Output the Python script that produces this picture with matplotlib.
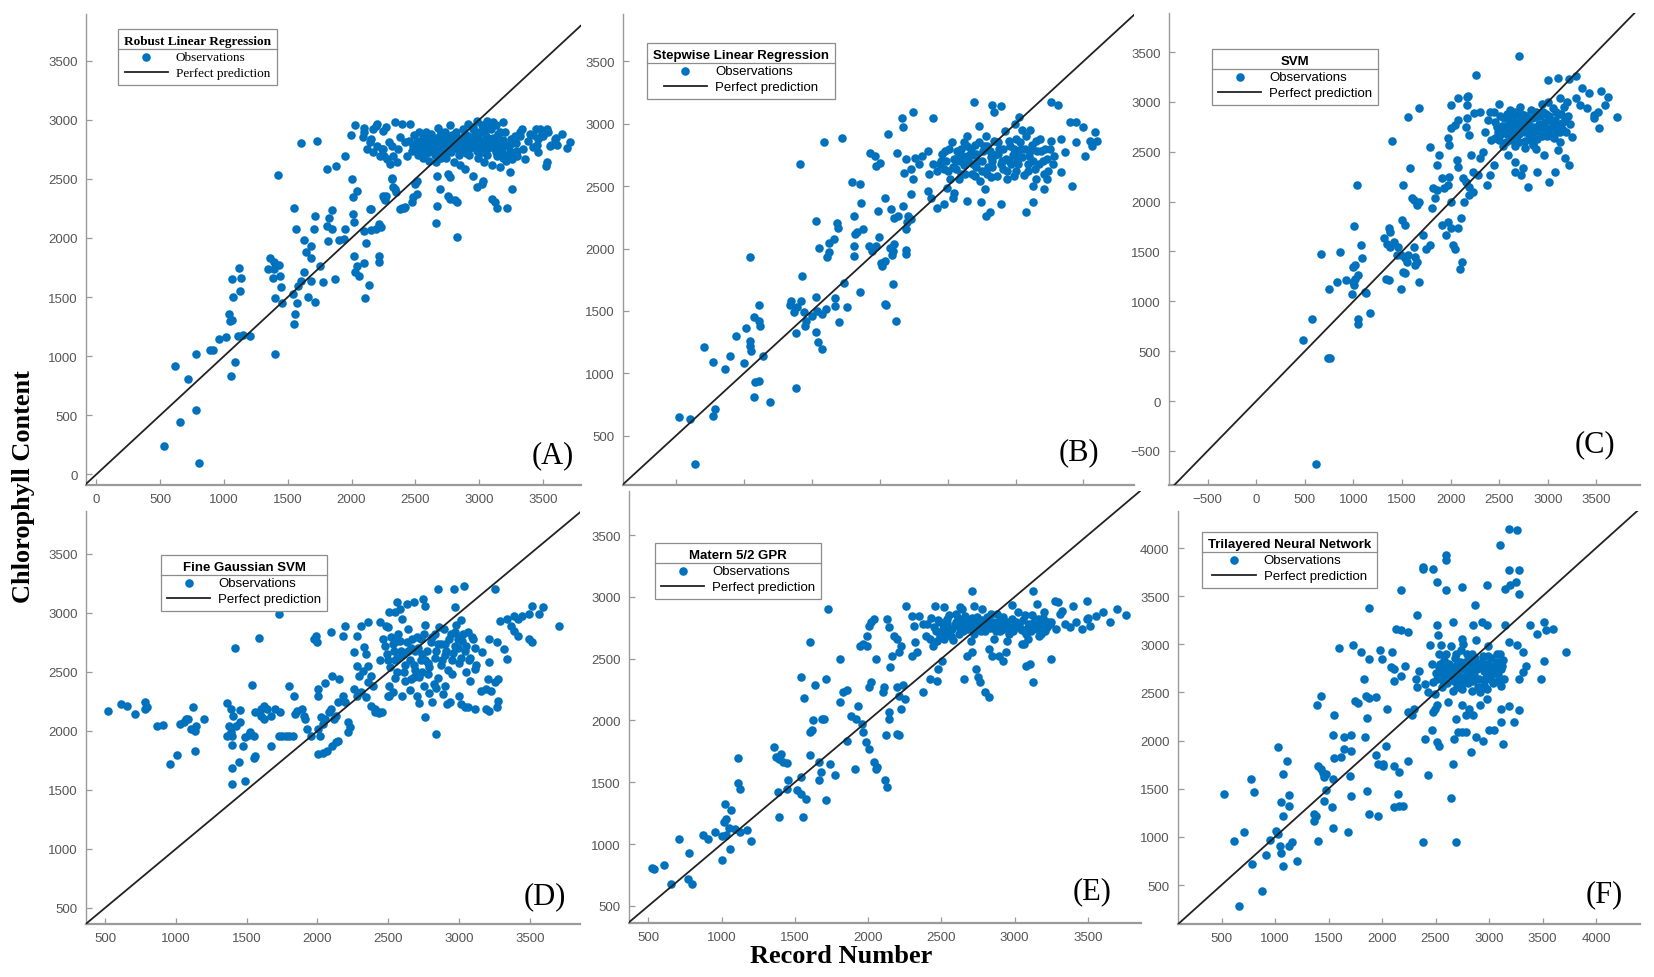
import matplotlib
matplotlib.use("Agg")
import matplotlib.pyplot as plt
from matplotlib.lines import Line2D

W, H = 1654, 978

# ---- data (true value, predicted value) ----
rlr_pts = [
    (532, 243), (806, 93), (616, 914), (658, 440), (720, 806), (778, 544), (784, 1018), (890, 1052),
    (916, 1052), (963, 1145), (1014, 1165), (1053, 829), (1086, 953), (1036, 1356), (1064, 1308),
    (1114, 1173), (1204, 1173), (1150, 1175), (1050, 1300), (1064, 1652), (1070, 1497), (1128, 1554),
    (1120, 1742), (1137, 1658), (1400, 1018), (1360, 1830), (1395, 1800), (1430, 1775), (1345, 1740),
    (1395, 1740), (1440, 1680), (1384, 1665), (1450, 1588), (1400, 1492), (1456, 1450), (1546, 2250),
    (1562, 2075), (1604, 2803), (1730, 2823), (1422, 2532), (1557, 1356), (1551, 1272), (1570, 1450),
    (1540, 1530), (1580, 1590), (1600, 1640), (1630, 1715), (1646, 1878), (1624, 1985), (1680, 1930),
    (1714, 2188), (1708, 2075), (1686, 1830), (1658, 1500), (1716, 1455), (1680, 1638), (1778, 1624),
    (1750, 1765), (1814, 1977), (1848, 2075), (1808, 2104), (1848, 2236), (1820, 2166), (1870, 1652),
    (1937, 1990), (1898, 1985), (1952, 2075), (1806, 2583), (1876, 2611), (1946, 2696), (2005, 2498),
    (2010, 2349), (2016, 2138), (2010, 2202), (2044, 2400), (1992, 2870), (2030, 2955), (2100, 2062),
    (2114, 1954), (2156, 2245), (2156, 2068), (2212, 2118), (2190, 2075), (2234, 2090), (2022, 1850),
    (2044, 1765), (2058, 1680), (2030, 1708), (2100, 1785), (2139, 1602), (2106, 1489), (2212, 1850),
    (2212, 1800), (2144, 2244), (2248, 2352), (2262, 2323), (2314, 2504), (2340, 2413), (2379, 2244),
    (2418, 2261), (2470, 2303), (2481, 2345), (2510, 2371), (2497, 2456), (2512, 2484), (2661, 2126),
    (2824, 2005), (2667, 2272), (2758, 2357), (2771, 2329), (2824, 2301), (2810, 2323), (2693, 2413),
    (2667, 2526), (2758, 2540), (2771, 2512), (2889, 2583), (2954, 2526), (2980, 2428), (3032, 2484),
    (3019, 2456), (3098, 2329), (3124, 2301), (3137, 2250), (3220, 2250), (3255, 2413), (3524, 2611),
    (3712, 2814), (3555, 2780), (3594, 2836), (3463, 2836), (3476, 2921), (3398, 2878), (3333, 2921),
    (3320, 2893), (3422, 2770), (3345, 2752), (3280, 2727), (3293, 2696), (3359, 2668), (3255, 2668),
    (3215, 2696), (3189, 2978), (3111, 2978), (3059, 2992), (3085, 2936), (2980, 2992), (2915, 2964),
    (2876, 2921), (2954, 2921), (2092, 2851), (2144, 2809), (2118, 2752), (2170, 2724), (2196, 2780),
    (2248, 2752), (2222, 2696), (2275, 2668), (2301, 2625), (2353, 2639), (2170, 2921), (2196, 2964),
    (2248, 2907), (2340, 2983), (2393, 2964), (2457, 2964), (2379, 2851), (2418, 2809), (2366, 2752),
    (2327, 2696), (2432, 2696), (2100, 2893), (2156, 2837), (2190, 2950), (2240, 2752), (2254, 2696),
    (2318, 2780), (2296, 2809), (2094, 2927), (2268, 2936), (2254, 2338), (2268, 2352), (2324, 2428),
    (2352, 2391), (2318, 2498), (2408, 2250), (2394, 2253),
    (2480, 2780), (2510, 2820), (2540, 2760), (2560, 2850), (2590, 2800), (2600, 2740), (2620, 2880),
    (2640, 2820), (2650, 2770), (2670, 2710), (2690, 2860), (2700, 2800), (2720, 2750), (2730, 2900),
    (2750, 2840), (2760, 2790), (2780, 2730), (2790, 2870), (2810, 2810), (2830, 2760), (2840, 2700),
    (2860, 2850), (2870, 2790), (2890, 2880), (2520, 2700), (2560, 2680), (2610, 2650), (2660, 2640),
    (2700, 2680), (2580, 2900), (2680, 2930), (2770, 2960), (2490, 2870), (2530, 2900), (2610, 2780),
    (2740, 2680), (2800, 2640), (2850, 2620), (2880, 2740), (2450, 2820),
    (2940, 2800), (2960, 2860), (2980, 2740), (3000, 2900), (3010, 2820), (3030, 2770), (3050, 2860),
    (3060, 2700), (3080, 2800), (3090, 2920), (3110, 2850), (3120, 2760), (3140, 2690), (3150, 2880),
    (3170, 2810), (3180, 2740), (3200, 2900), (3210, 2650), (3230, 2780), (3250, 2840), (3270, 2720),
    (3290, 2800), (2950, 2940), (3020, 2960), (3100, 2620), (3160, 2600), (3240, 2560), (3040, 2640),
    (2990, 2680), (2920, 2700), (2910, 2860), (3130, 2960), (3060, 2940), (3190, 2680), (3300, 2740),
    (3320, 2860), (3380, 2820), (3420, 2870), (3450, 2790), (3500, 2860), (3540, 2900), (3600, 2850),
    (3650, 2880), (3690, 2760), (3460, 2730), (3530, 2640), (3610, 2790), (3528, 2921), (3444, 2921),
    (3486, 2865), (3564, 2789),
    (2470, 2740), (2500, 2760), (2530, 2810), (2550, 2780), (2570, 2830), (2590, 2720), (2620, 2800),
    (2630, 2740), (2660, 2790), (2670, 2850), (2690, 2750), (2710, 2830), (2730, 2780), (2740, 2720),
    (2760, 2860), (2780, 2800), (2800, 2760), (2820, 2840), (2840, 2790), (2850, 2740), (2870, 2830),
    (2890, 2770), (2910, 2800), (2930, 2760), (2950, 2820), (2970, 2780), (2990, 2850), (3000, 2790),
    (3020, 2730), (3040, 2820), (3070, 2760), (3090, 2840), (3100, 2790), (3130, 2730), (3140, 2820),
    (3160, 2760), (3190, 2830), (3210, 2790), (3240, 2730), (3260, 2800), (2600, 2860), (2700, 2900),
    (2820, 2900), (3040, 2900), (3160, 2900), (2560, 2730), (2650, 2700), (2900, 2720), (3060, 2780),
    (3280, 2860),
]

swlr_pts = [
    (519, 647), (603, 634), (643, 273), (703, 1208), (774, 1093), (769, 660), (787, 714), (861, 1034),
    (901, 1136), (945, 1296), (998, 1082), (1019, 1360), (1043, 1261), (1043, 1221), (1051, 1181),
    (1046, 1934), (1077, 807), (1083, 927), (1109, 941), (1109, 1550), (1114, 1416), (1122, 1381),
    (1077, 1448), (1142, 1141), (1189, 767), (1382, 1320), (1387, 879), (1413, 2674), (1426, 1782),
    (1348, 1582), (1340, 1547), (1372, 1488), (1393, 1528), (1419, 1582), (1440, 1494), (1458, 1421),
    (1450, 1381), (1498, 1461), (1537, 1501), (1532, 1608), (1577, 1475), (1603, 1515), (1529, 1328),
    (1545, 1248), (1572, 1194), (1590, 2856), (1721, 2883), (1550, 2001), (1624, 1974), (1611, 1929),
    (1624, 2041), (1663, 2076), (1687, 2204), (1690, 2161), (1529, 2223), (1671, 1600), (1674, 1536),
    (1700, 1408), (1734, 1721), (1761, 1528), (1795, 2535), (1858, 2514), (1808, 2263), (1818, 2116),
    (1813, 1943), (1860, 2364), (1834, 2132), (1813, 2022), (1879, 2156), (1858, 1648), (1918, 2019),
    (1945, 1979), (1971, 2019), (1992, 2092), (2010, 1885), (2018, 1856), (2036, 1899), (1984, 2300),
    (2036, 2407), (2036, 1552), (2044, 1547), (2089, 1947), (2097, 1979), (2076, 2006), (2102, 2033),
    (2097, 1712), (2081, 2313), (2102, 2246), (2136, 2260), (2123, 1416), (2191, 1984), (2194, 1952),
    (2194, 2156), (2202, 2209), (2233, 2236), (2207, 2263), (2168, 2340), (2233, 2434), (2060, 2917),
    (2170, 2971), (2165, 3043), (2244, 3091), (1929, 2767), (1963, 2741), (1976, 2660), (2002, 2687),
    (2128, 2767), (2194, 2714), (2233, 2634), (2259, 2727), (2286, 2674), (2312, 2741), (2181, 2607),
    (2247, 2554), (2352, 2784), (2391, 2674), (2365, 2594), (2418, 2621), (2444, 2674), (2391, 3047),
    (2352, 2460), (2378, 2407), (2418, 2327), (2470, 2353), (2496, 2487), (2549, 2447), (2536, 2407),
    (3259, 3171), (3312, 3150), (3404, 3011), (3443, 3016), (3496, 2971), (3443, 2850), (3509, 2744),
    (3549, 2864), (3338, 2877), (3364, 2770), (3285, 2744), (3272, 2677), (3338, 2610), (3417, 2503),
    (3233, 2557), (3128, 2503), (3128, 2370), (3075, 2290), (3207, 2477), (3601, 2864), (3562, 2824),
    (3588, 2931), (2746, 2370), (2813, 2290), (2786, 2263), (2891, 2356), (2642, 2383), (2773, 2477),
    (2694, 3171), (2825, 3150), (2838, 3091), (2891, 3144), (2733, 2984), (3022, 3051), (2996, 2997),
    (2450, 2700), (2480, 2780), (2500, 2620), (2530, 2850), (2550, 2720), (2580, 2560), (2600, 2800),
    (2620, 2670), (2640, 2900), (2660, 2750), (2680, 2600), (2700, 2830), (2720, 2700), (2740, 2540),
    (2760, 2780), (2780, 2900), (2800, 2650), (2820, 2730), (2840, 2860), (2860, 2580), (2880, 2800),
    (2900, 2700), (2920, 2940), (2940, 2620), (2960, 2820), (2980, 2750), (3000, 2880), (3020, 2680),
    (3040, 2800), (3060, 2590), (3080, 2900), (3100, 2740), (3120, 2830), (3140, 2640), (3160, 2780),
    (3180, 2880), (3200, 2700), (3220, 2800), (3240, 2620), (3260, 2860), (2560, 2640), (2610, 2740),
    (2690, 2680), (2750, 2620), (2830, 2700), (2870, 2760), (2910, 2640), (2950, 2700), (3010, 2760),
    (3090, 2680), (3150, 2560), (2470, 2640), (2520, 2560), (2990, 2580), (3050, 2950), (2790, 2820),
    (2710, 2760), (2640, 2820), (2580, 2760), (3110, 2950),
    (2460, 2760), (2490, 2700), (2510, 2800), (2540, 2650), (2570, 2780), (2590, 2700), (2620, 2850),
    (2630, 2600), (2650, 2700), (2670, 2800), (2690, 2750), (2710, 2650), (2730, 2850), (2750, 2700),
    (2770, 2820), (2790, 2600), (2810, 2780), (2830, 2650), (2850, 2750), (2870, 2850), (2890, 2680),
    (2910, 2800), (2930, 2720), (2950, 2860), (2970, 2680), (2990, 2800), (3010, 2700), (3030, 2850),
    (3050, 2730), (3070, 2800), (3090, 2620), (3110, 2780), (3130, 2700), (3150, 2860), (3170, 2680),
    (3190, 2780), (3210, 2600), (3230, 2720), (3250, 2800), (2600, 2600), (2700, 2580), (2820, 2570),
    (2940, 2560), (3000, 2620), (2560, 2700),
]

svm_pts = [
    (617, -631), (481, 609), (573, 827), (738, 431), (764, 431), (668, 1470), (745, 1128), (867, 1497),
    (830, 1195), (922, 1212), (984, 1071), (1006, 1162), (1050, 1262), (995, 1346), (1014, 1363),
    (1006, 1758), (1032, 2167), (1043, 820), (1050, 777), (1080, 1564), (1087, 1430), (1124, 1095),
    (1131, 1088), (1168, 887), (995, 1195), (1014, 1229), (1315, 1637), (1363, 1731), (1381, 1698),
    (1344, 1580), (1418, 1597), (1381, 1547), (1455, 1547), (1337, 1229), (1363, 1212), (1491, 1128),
    (1400, 2609), (1447, 1463), (1491, 1463), (1528, 1430), (1565, 1463), (1547, 1396), (1620, 1547),
    (1510, 1296), (1528, 1289), (1499, 1815), (1528, 1765), (1510, 2167), (1583, 2334), (1565, 2853),
    (1675, 2937), (1638, 1446), (1657, 1396), (1638, 1363), (1675, 1195), (1602, 2033), (1620, 2016),
    (1675, 1999), (1657, 1966), (1712, 1664), (1749, 1530), (1785, 1564), (1804, 1932), (1840, 2033),
    (1822, 2133), (1859, 2116), (1914, 2234), (1785, 2552), (1877, 2468), (1859, 2368), (1914, 1765),
    (1969, 1798), (2006, 1731), (1951, 1664), (2024, 1564), (2043, 1530), (1932, 2133), (1969, 2167),
    (2006, 1999), (1987, 2251), (2116, 1396), (2098, 1329), (2079, 1731), (2109, 1832), (2134, 1999),
    (2153, 2200), (2189, 2150), (2226, 2100), (2189, 2066), (2061, 2418), (2079, 2351), (2123, 2234),
    (1969, 2636), (1987, 2569), (2006, 2736), (2043, 2770), (2079, 2820), (2171, 3054), (2256, 3266),
    (2153, 2753), (2189, 2669), (2208, 2468), (2226, 2301), (2281, 2267), (2300, 2435), (2336, 2502),
    (2373, 2167), (2410, 2267), (2447, 2368), (2704, 3456), (2998, 3222), (3108, 3239), (3218, 3232),
    (3291, 3256), (2796, 2150), (3016, 2200), (3071, 2301), (3218, 2368), (3181, 2435), (3108, 2519),
    (3347, 3138), (3420, 3088), (3549, 3105), (3622, 3054), (3586, 2971), (3512, 2904), (3476, 2837),
    (3402, 2937), (3531, 2736), (3714, 2853), (3476, 2870), (3291, 3038), (3328, 2971), (2593, 2468),
    (2667, 2401), (2740, 2334), (2887, 2301), (2961, 2468), (2850, 2569), (2722, 2267), (2667, 2301),
    (2006, 2971), (2079, 3038), (2171, 2971), (2245, 2887), (2171, 2837), (2300, 2904), (2182, 3064),
    (2350, 2700), (2380, 2820), (2420, 2620), (2450, 2900), (2480, 2750), (2500, 2980), (2520, 2680),
    (2550, 2840), (2570, 2600), (2590, 2770), (2610, 2920), (2630, 2700), (2650, 2860), (2670, 2640),
    (2690, 2790), (2710, 2950), (2730, 2720), (2750, 2870), (2770, 2610), (2790, 2800), (2810, 2680),
    (2830, 2920), (2850, 2750), (2870, 2850), (2890, 2630), (2910, 2780), (2930, 2700), (2950, 2900),
    (2970, 2800), (2990, 2660), (3010, 2860), (3030, 2740), (3050, 2940), (3070, 2820), (3090, 2700),
    (3110, 2880), (3130, 2600), (3150, 2790), (3170, 2950), (3190, 2700), (3210, 2860), (3230, 2780),
    (3250, 2650), (2540, 2560), (2660, 2560), (2760, 2540), (2880, 2530), (2620, 2760), (2700, 2870),
    (2800, 2720), (2400, 2900), (2460, 2640), (2940, 2980), (3060, 2640), (2580, 2680), (2720, 2810),
    (2840, 2620), (3000, 3000), (3120, 3040), (3200, 3000),
    (2460, 2800), (2490, 2700), (2510, 2860), (2530, 2760), (2560, 2700), (2580, 2880), (2600, 2720),
    (2620, 2820), (2640, 2660), (2660, 2900), (2680, 2740), (2700, 2680), (2720, 2880), (2740, 2780),
    (2760, 2700), (2780, 2860), (2800, 2780), (2820, 2640), (2840, 2840), (2860, 2700), (2880, 2900),
    (2900, 2740), (2920, 2860), (2940, 2660), (2960, 2760), (2980, 2880), (3000, 2720), (3020, 2820),
    (3040, 2660), (3060, 2780), (3080, 2900), (3100, 2760), (3120, 2700), (3140, 2880), (3160, 2720),
    (3180, 2820), (2700, 2600), (2850, 2580), (2500, 2620), (2620, 2620),
]

fgsvm_pts = [
    (523, 2167), (616, 2229), (654, 2215), (712, 2141), (780, 2243), (780, 2186), (798, 2200), (868, 2045),
    (906, 2054), (956, 1720), (1007, 1797), (1032, 2059), (1057, 2073), (1070, 2102), (1120, 2206),
    (1083, 2102), (1108, 2017), (1133, 2003), (1141, 2045), (1133, 1833), (1196, 2102), (1358, 2237),
    (1390, 2186), (1403, 2130), (1378, 2045), (1428, 2045), (1453, 2073), (1390, 1989), (1398, 1960),
    (1360, 1960), (1398, 1881), (1474, 1875), (1398, 1684), (1443, 1734), (1487, 1579), (1398, 1551),
    (1415, 2700), (1453, 2181), (1524, 1994), (1554, 1960), (1486, 1946), (1562, 1791), (1554, 1768),
    (1516, 1966), (1537, 2390), (1562, 2158), (1600, 2186), (1625, 2215), (1645, 2186), (1625, 2102),
    (1600, 2130), (1587, 2785), (1675, 1875), (1726, 1960), (1738, 2158), (1701, 2186), (1675, 2130),
    (1726, 2992), (1751, 1960), (1776, 1960), (1801, 1960), (1827, 1960), (1801, 2384), (1832, 2299),
    (1852, 2172), (1839, 2144), (1890, 2186), (1915, 2102), (1902, 2130), (1927, 2017), (1953, 1960),
    (1978, 2781), (1991, 2808), (1998, 2752), (2003, 2356), (2003, 2299), (2028, 2116), (2041, 2059),
    (2054, 2102), (2079, 2158), (2117, 2102), (2092, 2186), (2129, 2130), (2003, 1805), (2041, 1814),
    (2066, 1833), (2104, 1875), (2129, 1904), (2142, 1918), (2003, 2017), (2016, 1960), (2054, 2404),
    (2104, 2463), (2155, 2441), (2092, 2838), (2180, 2808), (2193, 2892), (2255, 2667), (2142, 2243),
    (2180, 2299), (2193, 2243), (2218, 2073), (2230, 2031), (2218, 1989), (2255, 2356), (2281, 2554),
    (2293, 2469), (2318, 2511), (2356, 2554), (2281, 2299), (2306, 2328), (2343, 2285), (2381, 2215),
    (2407, 2186), (2432, 2158), (2281, 2808), (2331, 2709), (2343, 2653), (2306, 2892), (2356, 2921),
    (2381, 2469), (2356, 2412), (2394, 2384), (2407, 2158), (2432, 2150), (2457, 2158), (2495, 2299),
    (2507, 2299), (2532, 2328), (2507, 2384), (2444, 2921), (2482, 2892), (2507, 3005), (2558, 3090),
    (2545, 3005), (2583, 3034), (2634, 3076), (2684, 3090), (2747, 3118), (2760, 3062), (2848, 3203),
    (2961, 3203), (3036, 3232), (2974, 3048), (3252, 3203), (2835, 1974), (2760, 2116), (2810, 2243),
    (2886, 2313), (2936, 2243), (2911, 2229), (3000, 2299), (3013, 2229), (3038, 2200), (3063, 2200),
    (3113, 2186), (3189, 2186), (3214, 2172), (3264, 2200), (3277, 2257), (3227, 2342), (3189, 2356),
    (3252, 2412), (3151, 2342), (3290, 2935), (3365, 2892), (3340, 2949), (3390, 2850), (3416, 2808),
    (3491, 2780), (3516, 2752), (3416, 2949), (3441, 2978), (3390, 2978), (3491, 2992), (3567, 2992),
    (3592, 3048), (3516, 3062), (3705, 2892), (3214, 2780), (3264, 2752), (3315, 2695), (3340, 2611),
    (3164, 2667), (3214, 2582), (3113, 2526), (3277, 2441), (3202, 2441),
    (2480, 2720), (2500, 2600), (2520, 2800), (2540, 2680), (2560, 2500), (2580, 2760), (2600, 2640),
    (2620, 2420), (2640, 2860), (2660, 2700), (2680, 2560), (2700, 2800), (2720, 2460), (2740, 2650),
    (2760, 2900), (2780, 2580), (2800, 2750), (2820, 2400), (2840, 2680), (2860, 2880), (2880, 2600),
    (2900, 2740), (2920, 2520), (2940, 2820), (2960, 2660), (2980, 2900), (3000, 2580), (3020, 2760),
    (3040, 2680), (3060, 2840), (3080, 2620), (3100, 2780), (3120, 2560), (2500, 2880), (2550, 2450),
    (2600, 2950), (2650, 2350), (2700, 2300), (2750, 2380), (2790, 2320), (2850, 2450), (2900, 2380),
    (2950, 2480), (3050, 2500), (2620, 2560), (2690, 2680), (2730, 2780), (2830, 2820), (2870, 2740),
    (2970, 2720), (3010, 2940), (2560, 2620), (2440, 2600), (2460, 2780), (2990, 2780), (2680, 2460),
    (2780, 2480), (3080, 2420), (2600, 2300), (2720, 2240),
    (2490, 2650), (2510, 2540), (2530, 2740), (2550, 2600), (2570, 2820), (2590, 2680), (2610, 2500),
    (2630, 2750), (2650, 2600), (2670, 2780), (2690, 2520), (2710, 2700), (2730, 2600), (2750, 2820),
    (2770, 2680), (2790, 2540), (2810, 2800), (2830, 2620), (2850, 2740), (2870, 2560), (2890, 2860),
    (2910, 2680), (2930, 2780), (2950, 2600), (2970, 2840), (2990, 2700), (3010, 2620), (3030, 2820),
    (3050, 2720), (3070, 2600), (3090, 2800), (3110, 2700), (2660, 2440), (2740, 2500), (2840, 2360),
    (2760, 2600), (2640, 2680), (2900, 2640), (3000, 2800), (2560, 2760),
]

gpr_pts = [
    (522, 807), (537, 802), (610, 834), (656, 680), (712, 1039), (780, 928), (773, 721), (798, 680),
    (871, 1071), (907, 1039), (956, 1098), (1000, 1066), (1029, 1071), (1022, 1327), (1017, 1179),
    (1029, 1206), (1066, 1273), (1049, 1130), (1054, 963), (1090, 1125), (1005, 874), (1115, 1696),
    (1115, 1496), (1127, 1448), (1127, 1098), (1171, 1112), (1200, 1022), (1359, 1785), (1371, 1704),
    (1395, 1690), (1420, 1663), (1444, 1658), (1407, 1731), (1383, 1421), (1444, 1443), (1456, 1515),
    (1395, 1219), (1541, 1542), (1541, 2350), (1561, 2180), (1517, 1434), (1541, 1408), (1578, 1367),
    (1554, 1219), (1602, 1906), (1615, 1919), (1627, 2000), (1634, 2283), (1602, 2638), (1602, 1717),
    (1663, 1663), (1676, 1582), (1663, 1515), (1688, 2013), (1700, 2013), (1712, 2337), (1724, 2902),
    (1712, 1354), (1737, 1650), (1773, 1556), (1810, 2148), (1829, 2229), (1859, 2243), (1805, 2498),
    (1859, 1838), (1883, 2040), (1920, 2013), (1907, 1609), (1944, 2606), (1968, 2619), (1993, 2687),
    (2005, 2768), (2017, 2795), (2042, 2821), (1932, 2121), (1956, 1973), (1968, 1906), (1985, 1825),
    (2005, 1771), (2042, 1663), (2054, 1609), (2059, 1623), (2005, 2269), (2017, 2310), (1993, 2606),
    (2054, 2498), (2102, 2229), (2110, 2269), (2139, 2067), (2139, 2013), (2115, 1515), (2127, 1461),
    (2122, 1879), (2127, 2821), (2139, 2754), (2176, 2687), (2200, 2660), (2224, 2606), (2212, 2552),
    (2200, 2269), (2212, 2202), (2237, 2283), (2249, 2175), (2224, 2094), (2200, 1892), (2212, 1879),
    (2151, 2431), (2163, 2525), (2261, 2929), (2298, 2848), (2310, 2768), (2322, 2633), (2334, 2552),
    (2298, 2525), (2346, 2848), (2371, 2781), (2395, 2687), (2420, 2660), (2444, 2606), (2468, 2646),
    (2493, 2687), (2517, 2660), (2541, 2714), (2566, 2687), (2371, 2229), (2420, 2337), (2468, 2323),
    (2480, 2417), (2505, 2485), (2456, 2929), (2517, 2916), (2541, 2821), (2627, 2916), (2663, 2848),
    (2724, 2929), (2651, 2337), (2676, 2525), (2712, 2552), (2712, 3050), (2737, 2417), (2749, 2350),
    (2761, 2310), (2798, 2229), (2822, 2188), (2822, 2579), (2846, 2525), (3127, 3050), (3249, 2498),
    (3273, 2970), (3298, 2956), (3322, 2889), (3395, 2929), (3493, 2970), (3517, 2768), (3554, 2848),
    (3493, 2821), (3078, 2444), (3102, 2458), (3127, 2310), (3066, 2619), (3090, 2660), (3163, 2687),
    (3200, 2768), (3224, 2795), (2895, 2525), (2920, 2485), (2944, 2552),
    (2400, 2780), (2430, 2830), (2460, 2720), (2490, 2800), (2520, 2760), (2550, 2850), (2570, 2740),
    (2600, 2800), (2620, 2700), (2640, 2780), (2660, 2830), (2680, 2740), (2700, 2790), (2720, 2700),
    (2740, 2840), (2760, 2760), (2780, 2810), (2800, 2720), (2820, 2780), (2840, 2860), (2860, 2750),
    (2880, 2800), (2900, 2720), (2920, 2840), (2940, 2780), (2960, 2700), (2980, 2820), (3000, 2760),
    (3020, 2880), (3040, 2740), (3060, 2810), (3080, 2700), (3100, 2780), (3120, 2850), (3140, 2760),
    (3160, 2820), (3180, 2700), (3200, 2880), (3220, 2760), (3250, 2800), (3280, 2740), (3310, 2860),
    (3340, 2780), (3380, 2760), (3420, 2800), (3460, 2740), (3500, 2830), (3600, 2880), (3650, 2800),
    (3700, 2900), (3760, 2850), (2580, 2650), (2700, 2640), (2860, 2660), (2950, 2640), (3050, 2620),
    (2500, 2690), (2780, 2900), (2980, 2930), (2640, 2900), (3150, 2940),
    (2450, 2760), (2480, 2810), (2510, 2740), (2540, 2790), (2560, 2720), (2590, 2770), (2610, 2830),
    (2630, 2750), (2650, 2720), (2670, 2800), (2690, 2760), (2710, 2830), (2730, 2740), (2750, 2800),
    (2770, 2720), (2790, 2770), (2810, 2840), (2830, 2750), (2850, 2800), (2870, 2720), (2890, 2770),
    (2910, 2820), (2930, 2740), (2950, 2800), (2970, 2760), (2990, 2720), (3010, 2800), (3030, 2780),
    (3050, 2730), (3070, 2850), (3090, 2760), (3110, 2720), (3130, 2800), (3150, 2740), (3170, 2790),
    (3190, 2830), (3210, 2720), (3240, 2780), (2600, 2860), (2880, 2860),
]

nn_pts = [
    (527, 1446), (617, 961), (660, 286), (710, 1055), (777, 1602), (804, 1464), (784, 719), (877, 441),
    (911, 812), (954, 972), (1011, 1065), (1028, 1030), (1044, 909), (1051, 833), (1028, 1931),
    (1078, 1654), (1078, 1221), (1078, 701), (1051, 1360), (1111, 1792), (1128, 1436), (1128, 1325),
    (1128, 909), (1155, 944), (1205, 753), (1362, 1238), (1405, 961), (1395, 2365), (1428, 2462),
    (1362, 1169), (1379, 1221), (1405, 1736), (1428, 1706), (1445, 1665), (1462, 1620), (1478, 1654),
    (1462, 1377), (1478, 1491), (1532, 1308), (1552, 2267), (1545, 2060), (1552, 1820), (1538, 1602),
    (1602, 2961), (1545, 1090), (1612, 1827), (1646, 1914), (1646, 2035), (1686, 1048), (1696, 1637),
    (1712, 1429), (1706, 2060), (1706, 1887), (1729, 2988), (1746, 2416), (1779, 2392), (1806, 2919),
    (1829, 2642), (1846, 2468), (1839, 2035), (1863, 2233), (1880, 2441), (1946, 2451), (1863, 1481),
    (1880, 3376), (1880, 2850), (1880, 1238), (1946, 1848), (1963, 1758), (2006, 1734), (1963, 1221),
    (1980, 2936), (1997, 2850), (2013, 1758), (2040, 1948), (2044, 2330), (2080, 2763), (2113, 2746),
    (2096, 2919), (2113, 1308), (2146, 1446), (2113, 1741), (2163, 1678), (2173, 3560), (2163, 1325),
    (2196, 1325), (2113, 2624), (2180, 2676), (2213, 2780), (2130, 3161), (2180, 3144), (2240, 3127),
    (2247, 1792), (2280, 2261), (2297, 2330), (2247, 2295), (2314, 2642), (2330, 2555), (2347, 2728),
    (2397, 2590), (2430, 2503), (2480, 2607), (2330, 3300), (2380, 944), (2430, 1644), (2397, 2018),
    (2463, 2105), (2480, 2295), (2497, 2330), (2380, 3785), (2380, 3803), (2480, 3785), (2513, 3647),
    (2597, 3560), (2597, 3924), (2597, 3872), (2447, 2988), (2463, 2798), (2513, 3196), (2520, 3092),
    (2547, 2988), (2513, 1983), (2530, 1948), (2688, 944), (2641, 1401), (2664, 1758), (2748, 3595),
    (2865, 3404), (2671, 2018), (2714, 2087), (2748, 2087), (2781, 2087), (2688, 2226), (2781, 2261),
    (2848, 2261), (2831, 1879), (2881, 2035), (2948, 2001), (3048, 2105), (3114, 2191), (3131, 1966),
    (3000, 2105), (2982, 3612), (3098, 4028), (3182, 4201), (3265, 4184), (3148, 3577), (3198, 3612),
    (3248, 3647), (3282, 3768), (3282, 3525), (3182, 3768), (3148, 3196), (3182, 3023), (3265, 2988),
    (3315, 2919), (3382, 3196), (3449, 3109), (3515, 3231), (3532, 3144), (3599, 3161), (3716, 2919),
    (3282, 2642), (3315, 2711), (3349, 2780), (3482, 2642), (3515, 2832), (3182, 2364), (3282, 2313),
    (3114, 2330), (3232, 2191), (2664, 3231), (2748, 3057), (2848, 3196), (2932, 3231), (2982, 3196),
    (2497, 2486), (2513, 2365), (2614, 2399), (2748, 2365), (2815, 2330), (2915, 2365), (2982, 2434),
    (2748, 2538), (2915, 2503), (3048, 2607), (3114, 2572),
    (2500, 2700), (2540, 2800), (2570, 2620), (2600, 2900), (2620, 2740), (2650, 2680), (2680, 2860),
    (2700, 2560), (2720, 2780), (2740, 2940), (2760, 2660), (2780, 2820), (2800, 2600), (2820, 2740),
    (2840, 2900), (2860, 2680), (2880, 2800), (2900, 2560), (2920, 2760), (2940, 2880), (2960, 2640),
    (2980, 2800), (3000, 2700), (3020, 2860), (3040, 2600), (3060, 2760), (3080, 2680), (3100, 2900),
    (3120, 2780), (3140, 2640), (2560, 2560), (2640, 2980), (2760, 3000), (2880, 3040), (2990, 2980),
    (2660, 2520), (2840, 2520), (2980, 2540), (2600, 2760), (2700, 2700), (2810, 2860), (2950, 2720),
    (3070, 2820), (2530, 2900), (2690, 2620),
    (2510, 2640), (2530, 2760), (2550, 2700), (2580, 2840), (2590, 2680), (2610, 2600), (2630, 2800),
    (2660, 2740), (2670, 2620), (2690, 2900), (2710, 2680), (2730, 2820), (2750, 2600), (2770, 2740),
    (2790, 2900), (2810, 2680), (2830, 2800), (2850, 2620), (2870, 2860), (2890, 2740), (2910, 2640),
    (2930, 2820), (2950, 2580), (2970, 2700), (2990, 2880), (3010, 2640), (3030, 2780), (3050, 2700),
    (3070, 2900), (3090, 2620), (3110, 2740), (3130, 2840), (2700, 2800), (2860, 2760), (2940, 2780),
    (2620, 2680), (2780, 2660), (3000, 2760),
]

titles = ["Robust Linear Regression", "Stepwise Linear Regression", "SVM",
          "Fine Gaussian SVM", "Matern 5/2 GPR", "Trilayered Neural Network"]
panel_tags = ["(A)", "(B)", "(C)", "(D)", "(E)", "(F)"]
all_pts = [rlr_pts, swlr_pts, svm_pts, fgsvm_pts, gpr_pts, nn_pts]

x_limits = [(-81, 3798), (110, 3872), (-897, 3948), (366, 3853), (368, 3862), (93, 4411)]
y_limits = [(-90, 3895), (105, 3879), (-842, 3892), (364, 3864), (362, 3856), (95, 4385)]
x_ticks = [range(0, 3501, 500), range(500, 3501, 500), range(-500, 3501, 500),
           range(500, 3501, 500), range(500, 3501, 500), range(500, 4001, 500)]
y_ticks = [range(0, 3501, 500), range(500, 3501, 500), range(-500, 3501, 500),
           range(500, 3501, 500), range(500, 3501, 500), range(500, 4001, 500)]

# ---- layout in pixels: left, right, top, bottom ----
boxes = [(86, 581, 15, 486), (623, 1134, 15, 486), (1169, 1640, 14, 486),
         (86, 580, 512, 925), (629, 1141, 492, 924), (1178, 1640, 512, 925)]
legend_tl = [(118, 30), (647, 44), (1212, 50), (161, 556), (655, 544), (1202, 533)]
tag_pos = [(553, 456), (1079, 453), (1595, 445), (545, 897), (1092, 892), (1604, 895)]

BLUE = "#0072BD"
GRAY = "#9a9a9a"

fig = plt.figure(figsize=(W / 100, H / 100), dpi=100)
legends = []
for i in range(6):
    l, r, t, b = boxes[i]
    ax = fig.add_axes([l / W, 1 - b / H, (r - l) / W, (b - t) / H])
    xs = [p[0] for p in all_pts[i]]
    ys = [p[1] for p in all_pts[i]]
    ax.scatter(xs, ys, s=38, color=BLUE, linewidths=0, label="Observations", zorder=3)
    lo = min(x_limits[i][0], y_limits[i][0])
    hi = max(x_limits[i][1], y_limits[i][1])
    ax.plot([lo, hi], [lo, hi], color="#222222", lw=1.3, label="Perfect prediction", zorder=4)
    ax.set_xlim(*x_limits[i])
    ax.set_ylim(*y_limits[i])
    ax.set_xticks(list(x_ticks[i]))
    ax.set_yticks(list(y_ticks[i]))
    if i == 1:
        ax.set_xticklabels([])
    for s in ["top", "right"]:
        ax.spines[s].set_visible(False)
    for s in ["left", "bottom"]:
        ax.spines[s].set_color(GRAY)
        ax.spines[s].set_linewidth(1.6 if s == "bottom" else 1.0)
    ax.tick_params(direction="in", length=4, width=0.9, color=GRAY,
                   labelcolor="#555555", labelsize=9.5, pad=6)
    for lab in ax.get_xticklabels() + ax.get_yticklabels():
        lab.set_family("Liberation Sans")

    serif = (i == 0)
    fam = "Liberation Serif" if serif else "Liberation Sans"
    lx, ly = legend_tl[i]
    ax_l = (lx - l) / (r - l)
    ax_t = (b - ly) / (b - t)
    leg = ax.legend(loc="upper left", bbox_to_anchor=(ax_l, ax_t), borderaxespad=0,
                    title=titles[i], fancybox=False, framealpha=1, edgecolor="#8c8c8c",
                    scatterpoints=1, handlelength=3.3, handletextpad=0.6, borderpad=0.45,
                    labelspacing=0.3, prop={"family": fam, "size": 9.5},
                    title_fontproperties={"family": fam, "size": 9.5, "weight": "bold"})
    leg.get_frame().set_linewidth(0.9)
    leg.set_zorder(10)
    legends.append(leg)

    tx, ty = tag_pos[i]
    fig.text(tx / W, 1 - ty / H, panel_tags[i], ha="center", va="center",
             family="Liberation Serif", fontsize=22)

fig.text(24 / W, 1 - 487 / H, "Chlorophyll Content", rotation=90, ha="center", va="center",
         family="Liberation Serif", fontsize=19, fontweight="bold")
fig.text(841 / W, 1 - 957 / H, "Record Number", ha="center", va="center",
         family="Liberation Serif", fontsize=19, fontweight="bold")

# separator line under each legend title, like the MATLAB legend
fig.canvas.draw()
for leg in legends:
    fb = leg.get_frame().get_window_extent()
    tb = leg.get_title().get_window_extent()
    yline = tb.y0 - 2
    fig.add_artist(Line2D([fb.x0 / W, fb.x1 / W], [yline / H, yline / H],
                          transform=fig.transFigure, color="#8c8c8c", lw=0.9, zorder=11))

fig.savefig("out.png", dpi=100, facecolor="white")
